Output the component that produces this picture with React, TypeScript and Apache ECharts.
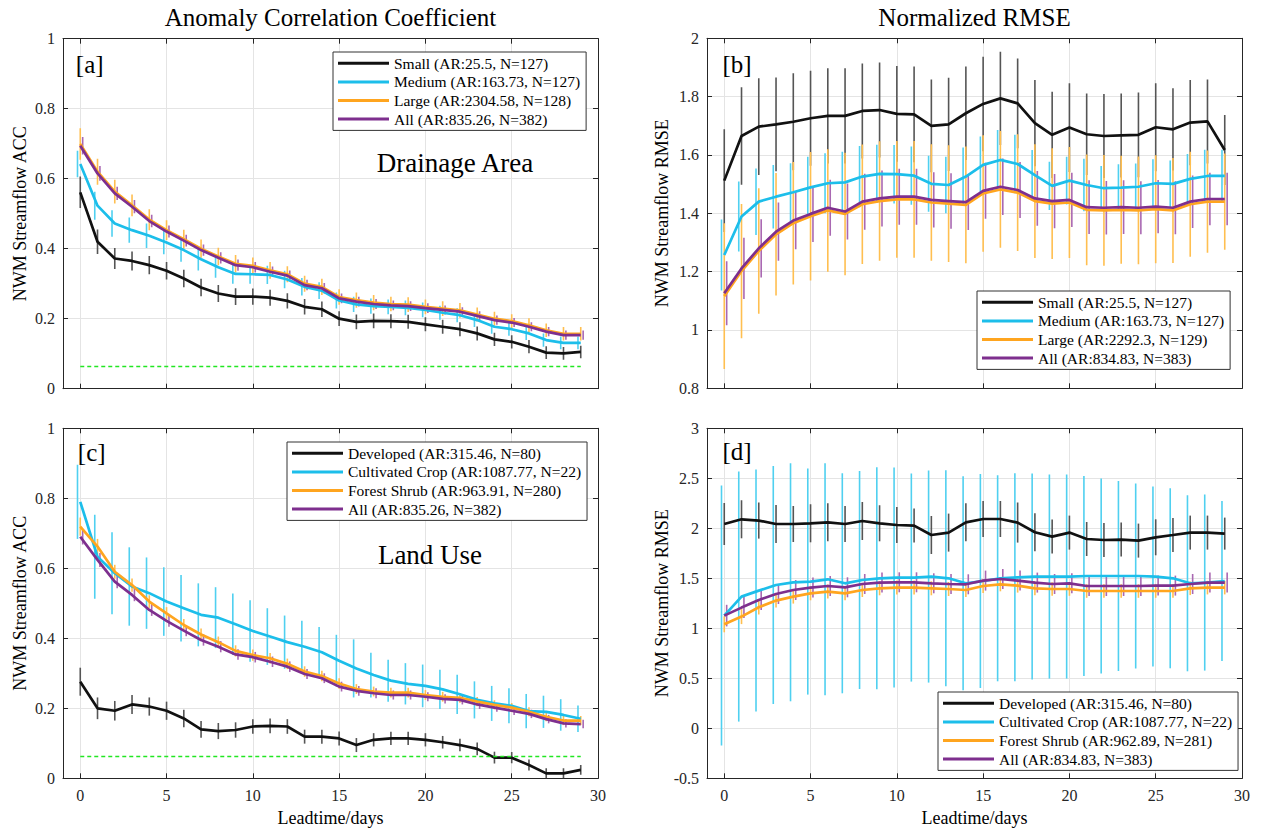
import React, { useEffect, useRef } from "react";
import * as echarts from "echarts";

// ---------- data ----------
const days = [0, 1, 2, 3, 4, 5, 6, 7, 8, 9, 10, 11, 12, 13, 14, 15, 16, 17, 18, 19, 20, 21, 22, 23, 24, 25, 26, 27, 28, 29];
const xTicks = [0, 5, 10, 15, 20, 25, 30];
const accBaseline = 0.063;

// Panel a (ACC by drainage area)
const aSmall = [0.561, 0.42, 0.372, 0.365, 0.353, 0.337, 0.315, 0.289, 0.272, 0.263, 0.263, 0.26, 0.251, 0.234, 0.227, 0.2, 0.191, 0.194, 0.193, 0.191, 0.184, 0.177, 0.17, 0.158, 0.141, 0.134, 0.12, 0.103, 0.101, 0.105];
const aSmallErr = [0.045, 0.035, 0.03, 0.027, 0.026, 0.025, 0.025, 0.025, 0.024, 0.024, 0.023, 0.023, 0.022, 0.022, 0.022, 0.021, 0.021, 0.021, 0.02, 0.02, 0.02, 0.02, 0.02, 0.02, 0.019, 0.019, 0.019, 0.018, 0.018, 0.018];
const aMedium = [0.642, 0.523, 0.472, 0.453, 0.437, 0.418, 0.396, 0.37, 0.347, 0.328, 0.327, 0.325, 0.312, 0.291, 0.28, 0.252, 0.241, 0.236, 0.234, 0.231, 0.225, 0.217, 0.21, 0.196, 0.177, 0.17, 0.158, 0.139, 0.131, 0.131];
const aMediumErr = [0.038, 0.04, 0.038, 0.036, 0.035, 0.034, 0.033, 0.032, 0.03, 0.028, 0.027, 0.026, 0.025, 0.025, 0.024, 0.023, 0.022, 0.022, 0.021, 0.021, 0.021, 0.02, 0.02, 0.02, 0.02, 0.019, 0.019, 0.019, 0.018, 0.018];
const aLarge = [0.699, 0.62, 0.563, 0.524, 0.483, 0.453, 0.427, 0.4, 0.378, 0.357, 0.351, 0.338, 0.327, 0.3, 0.291, 0.262, 0.253, 0.246, 0.242, 0.24, 0.234, 0.229, 0.224, 0.212, 0.2, 0.193, 0.181, 0.167, 0.157, 0.157];
const aLargeErr = [0.045, 0.037, 0.034, 0.031, 0.03, 0.028, 0.027, 0.026, 0.025, 0.025, 0.024, 0.024, 0.023, 0.023, 0.023, 0.022, 0.022, 0.022, 0.021, 0.021, 0.021, 0.021, 0.021, 0.02, 0.02, 0.02, 0.02, 0.019, 0.019, 0.019];
const aAll = [0.694, 0.615, 0.558, 0.52, 0.479, 0.449, 0.423, 0.396, 0.374, 0.353, 0.347, 0.334, 0.323, 0.296, 0.287, 0.258, 0.249, 0.242, 0.238, 0.236, 0.23, 0.225, 0.22, 0.208, 0.196, 0.189, 0.177, 0.163, 0.153, 0.153];
const aAllErr = [0.025, 0.021, 0.019, 0.019, 0.018, 0.017, 0.017, 0.016, 0.016, 0.016, 0.015, 0.015, 0.015, 0.015, 0.015, 0.014, 0.014, 0.014, 0.014, 0.014, 0.014, 0.013, 0.013, 0.013, 0.013, 0.013, 0.013, 0.013, 0.013, 0.013];

// Panel b (normalized RMSE by drainage area)
const bSmall = [1.512, 1.665, 1.697, 1.705, 1.714, 1.726, 1.734, 1.734, 1.751, 1.754, 1.741, 1.739, 1.7, 1.705, 1.743, 1.775, 1.794, 1.777, 1.709, 1.669, 1.694, 1.671, 1.665, 1.667, 1.669, 1.695, 1.688, 1.711, 1.715, 1.617];
const bSmallErr = [0.176, 0.167, 0.166, 0.161, 0.166, 0.163, 0.163, 0.163, 0.163, 0.163, 0.164, 0.164, 0.159, 0.16, 0.16, 0.162, 0.16, 0.154, 0.148, 0.148, 0.152, 0.14, 0.144, 0.144, 0.145, 0.151, 0.141, 0.146, 0.144, 0.12];
const bMedium = [1.257, 1.389, 1.44, 1.457, 1.472, 1.489, 1.503, 1.506, 1.526, 1.535, 1.534, 1.529, 1.501, 1.497, 1.526, 1.566, 1.583, 1.569, 1.531, 1.494, 1.512, 1.497, 1.486, 1.488, 1.491, 1.503, 1.501, 1.518, 1.528, 1.528];
const bMediumErr = [0.122, 0.12, 0.114, 0.109, 0.1, 0.105, 0.103, 0.105, 0.105, 0.1, 0.1, 0.1, 0.096, 0.097, 0.1, 0.097, 0.103, 0.1, 0.086, 0.083, 0.082, 0.09, 0.076, 0.08, 0.08, 0.082, 0.08, 0.085, 0.09, 0.09];
const bLarge = [1.116, 1.202, 1.271, 1.328, 1.366, 1.39, 1.41, 1.398, 1.431, 1.442, 1.448, 1.448, 1.437, 1.433, 1.429, 1.468, 1.482, 1.471, 1.442, 1.433, 1.437, 1.412, 1.41, 1.412, 1.41, 1.414, 1.41, 1.431, 1.44, 1.44];
const bLargeErr = [0.25, 0.23, 0.215, 0.21, 0.21, 0.22, 0.21, 0.21, 0.205, 0.205, 0.2, 0.2, 0.2, 0.2, 0.2, 0.2, 0.2, 0.2, 0.195, 0.19, 0.19, 0.19, 0.19, 0.185, 0.185, 0.185, 0.18, 0.18, 0.175, 0.165];
const bAll = [1.126, 1.211, 1.28, 1.337, 1.375, 1.398, 1.419, 1.406, 1.44, 1.451, 1.457, 1.457, 1.446, 1.442, 1.438, 1.477, 1.491, 1.48, 1.451, 1.442, 1.446, 1.421, 1.419, 1.421, 1.419, 1.423, 1.419, 1.44, 1.449, 1.449];
const bAllErr = [0.11, 0.105, 0.1, 0.1, 0.098, 0.096, 0.096, 0.096, 0.096, 0.096, 0.096, 0.096, 0.095, 0.095, 0.095, 0.096, 0.097, 0.096, 0.094, 0.093, 0.093, 0.092, 0.092, 0.092, 0.091, 0.091, 0.091, 0.09, 0.09, 0.09];

// Panel c (ACC by land use)
const cDev = [0.276, 0.2, 0.193, 0.211, 0.205, 0.193, 0.171, 0.14, 0.135, 0.138, 0.148, 0.15, 0.148, 0.119, 0.119, 0.114, 0.095, 0.11, 0.114, 0.114, 0.11, 0.103, 0.095, 0.084, 0.059, 0.059, 0.038, 0.014, 0.014, 0.024];
const cDevErr = [0.04, 0.031, 0.028, 0.027, 0.026, 0.026, 0.025, 0.024, 0.023, 0.022, 0.021, 0.021, 0.021, 0.02, 0.02, 0.02, 0.02, 0.019, 0.019, 0.019, 0.019, 0.018, 0.018, 0.018, 0.017, 0.016, 0.016, 0.015, 0.015, 0.014];
const cCrop = [0.79, 0.633, 0.586, 0.548, 0.529, 0.505, 0.486, 0.467, 0.459, 0.44, 0.421, 0.405, 0.389, 0.376, 0.36, 0.336, 0.314, 0.295, 0.279, 0.27, 0.264, 0.254, 0.24, 0.224, 0.214, 0.207, 0.192, 0.19, 0.181, 0.17];
const cCropErr = [0.106, 0.12, 0.117, 0.112, 0.102, 0.098, 0.095, 0.09, 0.087, 0.088, 0.088, 0.081, 0.076, 0.074, 0.072, 0.074, 0.083, 0.064, 0.06, 0.059, 0.061, 0.056, 0.056, 0.053, 0.05, 0.05, 0.049, 0.046, 0.045, 0.038];
const cForest = [0.719, 0.662, 0.59, 0.552, 0.505, 0.471, 0.438, 0.411, 0.389, 0.364, 0.352, 0.343, 0.327, 0.305, 0.292, 0.271, 0.255, 0.248, 0.245, 0.245, 0.238, 0.233, 0.23, 0.219, 0.21, 0.202, 0.19, 0.176, 0.165, 0.165];
const cForestErr = [0.026, 0.022, 0.02, 0.019, 0.018, 0.018, 0.017, 0.017, 0.016, 0.016, 0.016, 0.015, 0.015, 0.015, 0.015, 0.015, 0.014, 0.014, 0.014, 0.014, 0.014, 0.014, 0.014, 0.013, 0.013, 0.013, 0.013, 0.013, 0.013, 0.013];
const cAll = [0.69, 0.624, 0.562, 0.524, 0.481, 0.45, 0.422, 0.395, 0.376, 0.354, 0.346, 0.333, 0.319, 0.298, 0.286, 0.262, 0.25, 0.243, 0.238, 0.238, 0.233, 0.227, 0.224, 0.211, 0.202, 0.193, 0.184, 0.169, 0.157, 0.155];
const cAllErr = [0.022, 0.02, 0.019, 0.018, 0.017, 0.017, 0.016, 0.016, 0.016, 0.015, 0.015, 0.015, 0.015, 0.014, 0.014, 0.014, 0.014, 0.014, 0.013, 0.013, 0.013, 0.013, 0.013, 0.013, 0.012, 0.012, 0.012, 0.012, 0.012, 0.012];

// Panel d (normalized RMSE by land use)
const dDev = [2.043, 2.09, 2.077, 2.043, 2.043, 2.05, 2.06, 2.043, 2.073, 2.05, 2.033, 2.027, 1.933, 1.957, 2.06, 2.093, 2.093, 2.057, 1.96, 1.917, 1.957, 1.893, 1.883, 1.887, 1.877, 1.91, 1.933, 1.957, 1.957, 1.947];
const dDevErr = [0.21, 0.19, 0.18, 0.19, 0.18, 0.19, 0.19, 0.18, 0.19, 0.18, 0.18, 0.17, 0.19, 0.19, 0.19, 0.18, 0.18, 0.2, 0.19, 0.17, 0.17, 0.17, 0.17, 0.17, 0.17, 0.18, 0.17, 0.17, 0.17, 0.16];
const dCrop = [1.127, 1.317, 1.377, 1.433, 1.46, 1.467, 1.49, 1.45, 1.483, 1.5, 1.507, 1.507, 1.517, 1.5, 1.45, 1.473, 1.5, 1.51, 1.517, 1.517, 1.517, 1.523, 1.523, 1.523, 1.523, 1.517, 1.5, 1.45, 1.457, 1.473];
const dCropErr = [1.3, 1.25, 1.21, 1.19, 1.19, 1.13, 1.16, 1.1, 1.09, 1.11, 1.1, 1.04, 1.06, 1.08, 1.07, 1.07, 1.03, 1.04, 1.03, 1.02, 1.02, 1.0, 0.975, 0.95, 0.925, 0.9, 0.9, 0.88, 0.88, 0.8];
const dForest = [1.04, 1.117, 1.21, 1.277, 1.317, 1.35, 1.367, 1.35, 1.383, 1.4, 1.407, 1.407, 1.4, 1.393, 1.383, 1.423, 1.44, 1.427, 1.4, 1.393, 1.393, 1.373, 1.373, 1.373, 1.373, 1.373, 1.373, 1.4, 1.407, 1.407];
const dForestErr = [0.08, 0.075, 0.072, 0.07, 0.07, 0.07, 0.07, 0.07, 0.07, 0.07, 0.07, 0.07, 0.07, 0.07, 0.07, 0.07, 0.07, 0.07, 0.07, 0.068, 0.068, 0.068, 0.068, 0.068, 0.068, 0.068, 0.068, 0.068, 0.068, 0.068];
const dAll = [1.127, 1.207, 1.283, 1.343, 1.383, 1.407, 1.423, 1.41, 1.443, 1.457, 1.46, 1.46, 1.45, 1.443, 1.44, 1.477, 1.493, 1.477, 1.457, 1.443, 1.45, 1.423, 1.423, 1.423, 1.423, 1.427, 1.427, 1.443, 1.457, 1.457];
const dAllErr = [0.108, 0.105, 0.1, 0.1, 0.1, 0.1, 0.1, 0.1, 0.1, 0.1, 0.1, 0.1, 0.1, 0.1, 0.1, 0.1, 0.1, 0.1, 0.1, 0.1, 0.1, 0.1, 0.1, 0.1, 0.1, 0.1, 0.1, 0.1, 0.1, 0.1];

// Legend labels
const aNames = ["Small (AR:25.5, N=127)", "Medium (AR:163.73, N=127)", "Large (AR:2304.58, N=128)", "All (AR:835.26, N=382)"];
const bNames = ["Small (AR:25.5, N=127)", "Medium (AR:163.73, N=127)", "Large (AR:2292.3, N=129)", "All (AR:834.83, N=383)"];
const cNames = ["Developed (AR:315.46, N=80)", "Cultivated Crop (AR:1087.77, N=22)", "Forest Shrub (AR:963.91, N=280)", "All (AR:835.26, N=382)"];
const dNames = ["Developed (AR:315.46, N=80)", "Cultivated Crop (AR:1087.77, N=22)", "Forest Shrub (AR:962.89, N=281)", "All (AR:834.83, N=383)"];

// ---------- styles ----------
const FONT = '"Liberation Serif", "Times New Roman", serif';
const lineColors = ["#111111", "#1cbeea", "#ffa51f", "#7e2f8e"];
const barColors = ["#555555", "#4fd0f0", "#ffbf50", "#a968b2"];
const barOffsets = [0, -0.16, 0, 0.14];
const AXIS = "#262626";

type Panel = {
  left: number; top: number; yMin: number; yMax: number; yInterval: number;
  showX: boolean; names: string[]; vals: number[][]; errs: number[][];
  legendLeft: number; legendTop: number; baseline: boolean;
};

const panels: Panel[] = [
  { left: 63, top: 38.7, yMin: 0, yMax: 1, yInterval: 0.2, showX: false, names: aNames,
    vals: [aSmall, aMedium, aLarge, aAll], errs: [aSmallErr, aMediumErr, aLargeErr, aAllErr],
    legendLeft: 333, legendTop: 52, baseline: true },
  { left: 707, top: 38.3, yMin: 0.8, yMax: 2, yInterval: 0.2, showX: false, names: bNames,
    vals: [bSmall, bMedium, bLarge, bAll], errs: [bSmallErr, bMediumErr, bLargeErr, bAllErr],
    legendLeft: 977, legendTop: 291, baseline: false },
  { left: 63, top: 428.3, yMin: 0, yMax: 1, yInterval: 0.2, showX: true, names: cNames,
    vals: [cDev, cCrop, cForest, cAll], errs: [cDevErr, cCropErr, cForestErr, cAllErr],
    legendLeft: 287, legendTop: 442, baseline: true },
  { left: 707, top: 428.3, yMin: -0.5, yMax: 3, yInterval: 0.5, showX: true, names: dNames,
    vals: [dDev, dCrop, dForest, dAll], errs: [dDevErr, dCropErr, dForestErr, dAllErr],
    legendLeft: 938, legendTop: 692, baseline: false },
];

const GW = 535;
const GH = 350;

function buildOption() {
  const grid: any[] = [];
  const xAxis: any[] = [];
  const yAxis: any[] = [];
  const legend: any[] = [];
  const series: any[] = [];
  const labelStyle = { fontFamily: FONT, fontSize: 16, color: AXIS };

  panels.forEach((p, i) => {
    grid.push({ left: p.left, top: p.top, width: GW, height: GH });
    const xBase = {
      gridIndex: i, type: "value", min: -1, max: 30, splitNumber: 6,
      axisLine: { show: true, onZero: false, lineStyle: { color: AXIS, width: 1 } },
      axisTick: { show: true, inside: true, length: 5, customValues: xTicks, lineStyle: { color: AXIS } },
    };
    xAxis.push({
      ...xBase, position: "bottom",
      axisLabel: {
        show: p.showX, customValues: xTicks, margin: 9, ...labelStyle,
        formatter: (v: number) => (v % 5 === 0 ? String(v) : ""),
      },
      splitLine: { show: true, lineStyle: { color: "#e4e4e4", width: 1 } },
    });
    xAxis.push({ ...xBase, position: "top", axisLabel: { show: false }, splitLine: { show: false } });
    const yBase = {
      gridIndex: i, type: "value", min: p.yMin, max: p.yMax, interval: p.yInterval,
      axisLine: { show: true, onZero: false, lineStyle: { color: AXIS, width: 1 } },
      axisTick: { show: true, inside: true, length: 5, lineStyle: { color: AXIS } },
    };
    yAxis.push({
      ...yBase, position: "left",
      axisLabel: { show: true, margin: 8, ...labelStyle },
      splitLine: { show: true, lineStyle: { color: "#e4e4e4", width: 1 } },
    });
    yAxis.push({ ...yBase, position: "right", axisLabel: { show: false }, splitLine: { show: false } });

    legend.push({
      data: p.names.map((n) => ({ name: n, icon: "rect" })),
      orient: "vertical", left: p.legendLeft, top: p.legendTop,
      itemWidth: 51, itemHeight: 3, itemGap: 0, padding: [2, 6, 2, 5],
      borderColor: "#333", borderWidth: 1, borderRadius: 0, backgroundColor: "#fff",
      selectedMode: false,
      textStyle: { fontFamily: FONT, fontSize: 15.5, color: "#000", lineHeight: 18.6 },
    });

    // error bars first
    p.vals.forEach((vals, k) => {
      const err = p.errs[k];
      const off = barOffsets[k];
      const color = barColors[k];
      series.push({
        type: "custom", xAxisIndex: 2 * i, yAxisIndex: 2 * i, clip: true, silent: true,
        z: 2,
        data: days.map((d, j) => [d, vals[j] - err[j], vals[j] + err[j]]),
        encode: { x: 0, y: [1, 2] },
        renderItem: (_params: any, api: any) => {
          const x = api.value(0) + off;
          const p1 = api.coord([x, api.value(1)]);
          const p2 = api.coord([x, api.value(2)]);
          return {
            type: "line",
            shape: { x1: p1[0], y1: p1[1], x2: p2[0], y2: p2[1] },
            style: { stroke: color, lineWidth: 1.6 },
          };
        },
      });
    });
    // mean lines
    p.vals.forEach((vals, k) => {
      const s: any = {
        type: "line", name: p.names[k], xAxisIndex: 2 * i, yAxisIndex: 2 * i,
        data: days.map((d, j) => [d, vals[j]]),
        symbol: "none", color: lineColors[k], z: 3 + k * 0.01,
        lineStyle: { color: lineColors[k], width: 2.7 },
      };
      if (k === 0 && p.baseline) {
        s.markLine = {
          silent: true, symbol: "none", label: { show: false },
          lineStyle: { color: "#22e622", width: 1.4, type: [4, 3] },
          data: [[{ coord: [days[0], accBaseline] }, { coord: [days[days.length - 1], accBaseline] }]],
        };
      }
      series.push(s);
    });
  });

  const txt = (text: string, x: number, y: number, size: number, rot = 0) => ({
    type: "text", x, y, rotation: rot, z: 10,
    style: {
      text, x: 0, y: 0, fill: "#000", fontFamily: FONT, fontSize: size,
      textAlign: "center", textVerticalAlign: "middle", align: "center", verticalAlign: "middle",
    },
  });

  const graphic = [
    txt("Anomaly Correlation Coefficient", 330.5, 17.5, 25),
    txt("Normalized RMSE", 974.5, 17.5, 25),
    txt("[a]", 89.7, 64, 25),
    txt("[b]", 737, 64, 25),
    txt("[c]", 91.7, 452.3, 25),
    txt("[d]", 737, 451.7, 25),
    txt("Drainage Area", 455, 163, 27),
    txt("Land Use", 430, 555, 27),
    txt("NWM Streamflow ACC", 20, 213.7, 18, Math.PI / 2),
    txt("NWM Streamflow ACC", 20, 603.3, 18, Math.PI / 2),
    txt("NWM Streamflow RMSE", 662, 213.3, 18, Math.PI / 2),
    txt("NWM Streamflow RMSE", 662, 603.3, 18, Math.PI / 2),
    txt("Leadtime/days", 330.5, 818, 18),
    txt("Leadtime/days", 974.5, 818, 18),
  ];

  return {
    animation: false,
    backgroundColor: "#ffffff",
    textStyle: { fontFamily: FONT },
    grid, xAxis, yAxis, legend, series, graphic,
  };
}

export default function App() {
  const ref = useRef<HTMLDivElement>(null);
  useEffect(() => {
    if (!ref.current) return;
    const chart = echarts.init(ref.current, undefined, { renderer: "svg" });
    chart.setOption(buildOption() as any);
    return () => chart.dispose();
  }, []);
  return (
    <div
      ref={ref}
      style={{ position: "absolute", left: 0, top: 0, width: 1261, height: 830, background: "#fff" }}
    />
  );
}
